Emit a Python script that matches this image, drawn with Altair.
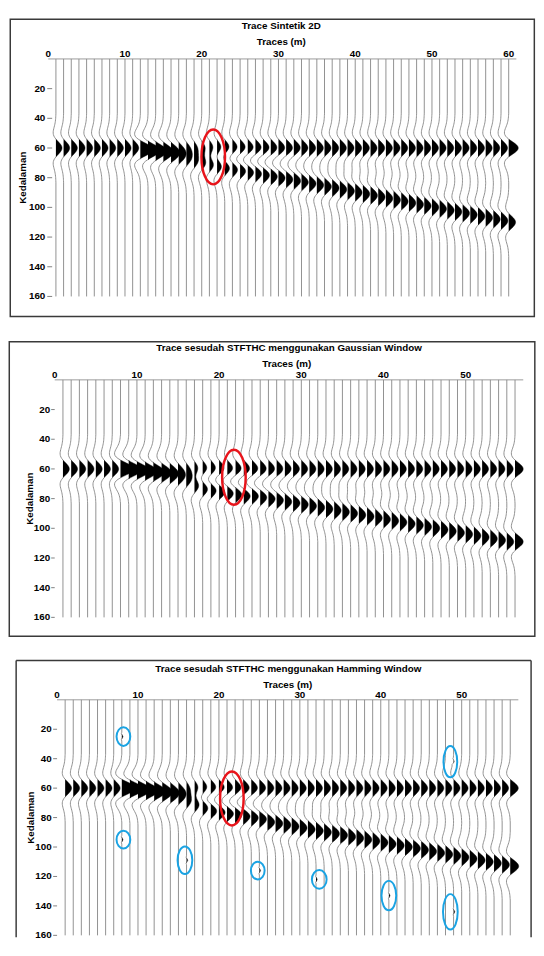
import altair as alt
import pandas as pd

# ---------------- data ----------------
# wavelet shape (offsets -22..22 depth units), positive lobe = filled black
WAVELET = [-0.015, -0.025, -0.039, -0.060, -0.089, -0.127, -0.175, -0.231, -0.292, -0.353, -0.406,
           -0.440, -0.443, -0.406, -0.320, -0.183, 0.0, 0.216, 0.445, 0.662, 0.841, 0.959,
           1.0,
           0.959, 0.841, 0.662, 0.445, 0.216, 0.0, -0.183, -0.320, -0.406, -0.443, -0.440,
           -0.406, -0.353, -0.292, -0.231, -0.175, -0.127, -0.089, -0.060, -0.039, -0.025, -0.015]
SPIKE = [-0.35, 0.45, 1.0, 0.45, -0.35]

DEPTHS = list(range(0, 161))
TOP_DEPTH = 60
Y_TICKS = [20, 40, 60, 80, 100, 120, 140, 160]
X_TICKS_1 = [0, 10, 20, 30, 40, 50, 60]
X_TICKS_23 = [0, 10, 20, 30, 40, 50]

# Panel 1: Trace Sintetik 2D
TRACES_1 = list(range(1, 61))
R1_AMP_1 = [0.8, 0.8, 0.8, 0.8, 0.8, 0.8, 0.8, 0.8, 0.8, 0.8, 0.8,
            0.85, 0.85, 0.85, 0.85, 0.85, 0.85, 0.85, 0.85, 0.85, 0.85, 0.85, 0.85, 0.85, 0.85,
            0.85, 0.85, 0.85, 0.85, 0.85, 0.85, 0.85, 0.85, 0.85, 0.85, 0.85, 0.85, 0.85, 0.85,
            0.85, 0.85, 0.85, 0.85, 0.85, 0.85, 0.85, 0.85, 0.85, 0.85, 0.85, 0.85, 0.85, 0.85,
            0.85, 0.85, 0.85, 0.85, 0.85, 0.85, 1.25]
R2_DEPTH_1 = [None, None, None, None, None, None, None, None, None, None, None,
              62, 63, 64, 65, 66, 67, 68, 69, 70, 71, 72, 73, 74, 75, 76, 77, 78, 79, 80, 81,
              82, 83, 84, 85, 86, 87, 88, 89, 90, 91, 92, 93, 94, 95, 96, 97, 98, 99, 100,
              101, 102, 103, 104, 105, 106, 107, 108, 109, 110]
R2_AMP_1 = [0, 0, 0, 0, 0, 0, 0, 0, 0, 0, 0,
            0.9, 0.9, 0.9, 0.9, 0.9, 0.9, 0.9, 0.9, 0.9, 0.9, 0.9, 0.9, 0.9, 0.9, 0.9, 0.9,
            0.9, 0.9, 0.9, 0.9, 0.9, 0.9, 0.9, 0.9, 0.9, 0.9, 0.9, 0.9, 0.9, 0.9, 0.9, 0.9,
            0.9, 0.9, 0.9, 0.9, 0.9, 0.9, 0.9, 0.9, 0.9, 0.9, 0.9, 0.9, 0.9, 0.9, 0.9, 0.9,
            0.9, 1.3]

# Panel 2: Gaussian window
TRACES_2 = list(range(1, 57))
R1_AMP_2 = [0.78, 0.78, 0.78, 0.78, 0.78, 0.78, 0.78, 0.78, 0.78, 0.78, 0.78, 0.78, 0.78, 0.78,
            0.78, 0.78, 0.78, 0.78, 0.78, 0.78, 0.78, 0.78, 0.78, 0.78, 0.78, 0.78, 0.78, 0.78,
            0.78, 0.78, 0.78, 0.78, 0.78, 0.78, 0.78, 0.78, 0.78, 0.78, 0.78, 0.78, 0.78, 0.78,
            0.78, 0.78, 0.78, 0.78, 0.78, 0.78, 0.78, 0.78, 0.78, 0.78, 0.78, 0.78, 0.78, 1.0]
R2_DEPTH_2 = [None, None, None, None, None, None, None,
              60, 61, 62, 63, 64, 65, 66, 67, 68, 71, 73, 74, 75, 76, 77, 78, 78, 79,
              80, 81, 82, 83, 84, 85, 86, 87, 88, 89, 90, 91, 92, 93, 94, 95, 96, 97, 98, 99,
              100, 101, 102, 103, 104, 105, 106, 107, 108, 109, 109]
R2_AMP_2 = [0, 0, 0, 0, 0, 0, 0,
            0.85, 0.85, 0.85, 0.85, 0.85, 0.85, 0.85, 0.85, 0.85, 0.85, 0.85, 0.85, 0.85, 0.85,
            0.85, 0.85, 0.85, 0.85, 0.85, 0.85, 0.85, 0.85, 0.85, 0.85, 0.85, 0.85, 0.85, 0.85,
            0.85, 0.85, 0.85, 0.85, 0.85, 0.85, 0.85, 0.85, 0.85, 0.85, 0.85, 0.85, 0.85, 0.85,
            0.85, 0.85, 0.85, 0.85, 0.85, 0.85, 1.0]

# Panel 3: Hamming window
TRACES_3 = list(range(1, 57))
R1_AMP_3 = [0.8, 0.8, 0.8, 0.8, 0.8, 0.8, 0.8, 0.8, 0.8, 0.8, 0.8, 0.8, 0.8, 0.8,
            0.8, 0.8, 0.8, 0.8, 0.8, 0.8, 0.8, 0.8, 0.8, 0.8, 0.8, 0.8, 0.8, 0.8,
            0.8, 0.8, 0.8, 0.8, 0.8, 0.8, 0.8, 0.8, 0.8, 0.8, 0.8, 0.8, 0.8, 0.8,
            0.8, 0.8, 0.8, 0.8, 0.8, 0.8, 0.8, 0.8, 0.8, 0.8, 0.8, 0.8, 0.8, 1.0]
R2_DEPTH_3 = [None, None, None, None, None, None, None,
              60, 61, 62, 63, 64, 65, 66, 67, 69, 71, 73, 75, 76, 77, 78, 79, 80, 81,
              83, 84, 85, 86, 87, 88, 89, 90, 91, 92, 93, 94, 95, 96, 97, 98, 99, 100, 101,
              102, 103, 104, 105, 106, 107, 108, 109, 110, 111, 112, 113]
R2_AMP_3 = [0, 0, 0, 0, 0, 0, 0,
            0.9, 0.9, 0.9, 0.9, 0.9, 0.9, 0.9, 0.9, 0.9, 0.9, 0.9, 0.9, 0.9, 0.9, 0.9, 0.9,
            0.9, 0.9, 0.9, 0.9, 0.9, 0.9, 0.9, 0.9, 0.9, 0.9, 0.9, 0.9, 0.9, 0.9, 0.9, 0.9,
            0.9, 0.9, 0.9, 0.9, 0.9, 0.9, 0.9, 0.9, 0.9, 0.9, 0.9, 0.9, 0.9, 0.9, 0.9, 0.9,
            1.05]
SPIKE_TRACE_3 = [8, 8, 16, 25, 32, 41, 49, 49]
SPIKE_DEPTH_3 = [25, 95, 109, 116, 122, 133, 144, 42]
SPIKE_AMP_3 = [0.15, 0.15, 0.15, 0.15, 0.15, 0.15, 0.15, 0.15]

# annotation ellipses (centre in trace / depth units)
RED_T = [21.5, 21.8, 21.6]
RED_D = [66, 65.6, 67]
BLUE_T = [8.2, 8.2, 15.8, 24.8, 32.4, 41.0, 48.6, 48.6]
BLUE_D = [25, 95, 109, 116, 122, 133, 144, 42]
BLUE_WH = [(14, 19), (14, 18), (15, 28), (14, 18), (15, 19), (15, 30), (15, 36), (14, 32)]

TITLES = ["Trace Sintetik 2D",
          "Trace sesudah STFTHC menggunakan Gaussian Window",
          "Trace sesudah STFTHC menggunakan Hamming Window"]
X_TITLE = "Traces (m)"
Y_TITLE = "Kedalaman"


# ---------------- helpers ----------------
def ellipse_path(w, h):
    a = w / h
    k = 0.5523
    return (f"M0,-1C{k*a:.4f},-1,{a:.4f},{-k:.4f},{a:.4f},0"
            f"C{a:.4f},{k:.4f},{k*a:.4f},1,0,1"
            f"C{-k*a:.4f},1,{-a:.4f},{k:.4f},{-a:.4f},0"
            f"C{-a:.4f},{-k:.4f},{-k*a:.4f},-1,0,-1Z")


def wiggle_table(traces, r1_amp, r2_depth, r2_amp, sp_t=(), sp_d=(), sp_a=()):
    n = len(DEPTHS)
    half = len(WAVELET) // 2
    shalf = len(SPIKE) // 2
    rows = []
    for i, t in enumerate(traces):
        amp = [0.0] * n
        events = [(TOP_DEPTH, r1_amp[i], WAVELET, half)]
        if r2_depth[i] is not None:
            events.append((r2_depth[i], r2_amp[i], WAVELET, half))
        for st, sd, sa in zip(sp_t, sp_d, sp_a):
            if st == t:
                events.append((sd, sa, SPIKE, shalf))
        for dep, a, w, h in events:
            for k, wv in enumerate(w):
                d = dep + k - h
                if 0 <= d < n:
                    amp[d] += a * wv
        for j in range(n):
            keep = (j == 0 or j == n - 1 or amp[j] != 0
                    or (j > 0 and amp[j - 1] != 0) or (j < n - 1 and amp[j + 1] != 0))
            if keep:
                rows.append({"t": t, "d": DEPTHS[j], "xl": t + amp[j],
                             "xf": t + max(amp[j], 0.0)})
    return pd.DataFrame(rows)


ONE = pd.DataFrame({"a": [0]})
FRAME_COLOR = "#3a3a3a"
FONT = "Liberation Sans"
TXT = dict(font=FONT, fontSize=10, fontWeight="bold", color="black")


def panel(df, title, title_xy, xtitle_xy, ytitle_x, xdom, xvals, xend, width, height,
          ylab_x, ytick_x, frame, ells, open_bottom=False):
    xs = alt.Scale(domain=xdom, nice=False, zero=False)
    ys = alt.Scale(domain=[0, 160], reverse=True, nice=False, zero=False)

    layers = []
    fx1, fx2, fy1, fy2 = frame
    if open_bottom:
        for enc in [dict(x=alt.value(fx1), y=alt.value(fy1), y2=alt.value(fy2)),
                    dict(x=alt.value(fx2), y=alt.value(fy1), y2=alt.value(fy2)),
                    dict(x=alt.value(fx1), x2=alt.value(fx2), y=alt.value(fy1))]:
            layers.append(alt.Chart(ONE).mark_rule(color=FRAME_COLOR, strokeWidth=1.5).encode(**enc))
        layers.append(alt.Chart(ONE).mark_rule(color="white", strokeWidth=0.5).encode(
            x=alt.value(-39.7), y=alt.value(0), y2=alt.value(1)))
    else:
        layers.append(alt.Chart(ONE).mark_rect(filled=False, stroke=FRAME_COLOR,
                                               strokeWidth=1.5).encode(
            x=alt.value(fx1), x2=alt.value(fx2), y=alt.value(fy1), y2=alt.value(fy2)))

    # titles
    layers.append(alt.Chart(ONE).mark_text(text=title, align="center", baseline="middle",
                                           **TXT).encode(
        x=alt.value(title_xy[0]), y=alt.value(title_xy[1])))
    layers.append(alt.Chart(ONE).mark_text(text=X_TITLE, align="center", baseline="middle",
                                           **TXT).encode(
        x=alt.value(xtitle_xy[0]), y=alt.value(xtitle_xy[1])))
    layers.append(alt.Chart(ONE).mark_text(text=Y_TITLE, align="center", baseline="middle",
                                           angle=270, **TXT).encode(
        x=alt.value(ytitle_x), y=alt.value(height / 2)))

    # hand-drawn axes (through the chart scales)
    xt = pd.DataFrame({"v": xvals})
    layers.append(alt.Chart(xt).mark_text(align="center", baseline="alphabetic", **TXT).encode(
        x=alt.X("v:Q", scale=xs, axis=None), y=alt.value(-1.5), text="v:Q"))
    yt = pd.DataFrame({"v": Y_TICKS})
    layers.append(alt.Chart(yt).mark_text(align="right", baseline="middle", **TXT).encode(
        y=alt.Y("v:Q", scale=ys, axis=None), x=alt.value(ylab_x), text="v:Q"))
    layers.append(alt.Chart(yt).mark_rule(color="#808080", strokeWidth=1).encode(
        y=alt.Y("v:Q", scale=ys, axis=None), x=alt.value(ytick_x[0]), x2=alt.value(ytick_x[1])))
    layers.append(alt.Chart(pd.DataFrame({"x": [0], "x2": [xend], "y": [0]})).mark_rule(
        color="#9a9a9a", strokeWidth=1).encode(
        x=alt.X("x:Q", scale=xs, axis=None), x2="x2:Q",
        y=alt.Y("y:Q", scale=ys, axis=None)))

    line = alt.Chart(df).mark_line(color="#8a8a8a", strokeWidth=0.95).encode(
        x=alt.X("xl:Q", scale=xs, axis=None),
        y=alt.Y("d:Q", scale=ys, axis=None),
        detail="t:N",
        order="d:Q")
    fill = alt.Chart(df).mark_area(orient="horizontal", color="black", opacity=1).encode(
        y=alt.Y("d:Q", scale=ys, axis=None),
        x=alt.X("t:Q", scale=xs, axis=None, stack=None),
        x2="xf:Q",
        detail="t:N")
    layers += [line, fill]

    for edf, sw in ells:
        layers.append(alt.Chart(edf).mark_point(filled=False, opacity=1, strokeWidth=sw).encode(
            x=alt.X("t:Q", scale=xs, axis=None),
            y=alt.Y("d:Q", scale=ys, axis=None),
            shape=alt.Shape("path:N", scale=None),
            size=alt.Size("sz:Q", scale=None),
            stroke=alt.Stroke("col:N", scale=None)))

    return alt.layer(*layers).properties(width=width, height=height)


def ell_df(ts, ds, whs, col):
    return pd.DataFrame({"t": ts, "d": ds,
                         "path": [ellipse_path(w, h) for w, h in whs],
                         "sz": [h * h for w, h in whs],
                         "col": [col] * len(ts)})


RED = "#e8141b"
BLUE = "#1aa3e3"

df1 = wiggle_table(TRACES_1, R1_AMP_1, R2_DEPTH_1, R2_AMP_1)
df2 = wiggle_table(TRACES_2, R1_AMP_2, R2_DEPTH_2, R2_AMP_2)
df3 = wiggle_table(TRACES_3, R1_AMP_3, R2_DEPTH_3, R2_AMP_3,
                   SPIKE_TRACE_3, SPIKE_DEPTH_3, SPIKE_AMP_3)

p1 = panel(df1, TITLES[0], (237.5, -33.2), (237.5, -17), -26, [0, 61], X_TICKS_1, 61,
           477, 242, -3, (-1, 4), (-38.7, 495.3, -40.5, 262.5),
           [(ell_df([RED_T[0]], [RED_D[0]], [(24, 56)], RED), 2.5)])
p2 = panel(df2, TITLES[1], (245.3, -32.5), (243, -16.2), -18.5, [-0.79, 57], X_TICKS_23, 57,
           484, 242, 2, (3, 6.6), (-39.7, 495.8, -38.8, 261.2),
           [(ell_df([RED_T[1]], [RED_D[1]], [(24, 56)], RED), 2.5)])
p3 = panel(df3, TITLES[2], (244.6, -31), (244, -15.3), -17, [-1.09, 57], X_TICKS_23, 57,
           479, 240, 3.5, (5, 9), (-32.7, 492, -40, 242),
           [(ell_df([RED_T[2]], [RED_D[2]], [(24, 55)], RED), 2.5),
            (ell_df(BLUE_T, BLUE_D, BLUE_WH, BLUE), 2)], open_bottom=True)

chart = alt.vconcat(p1, p2, p3, spacing=23).properties(
    padding={"left": 0, "top": 1, "right": 0, "bottom": 0}
).configure_view(stroke=None)

chart.save("out.html", embed_options={"renderer": "svg", "actions": False})
